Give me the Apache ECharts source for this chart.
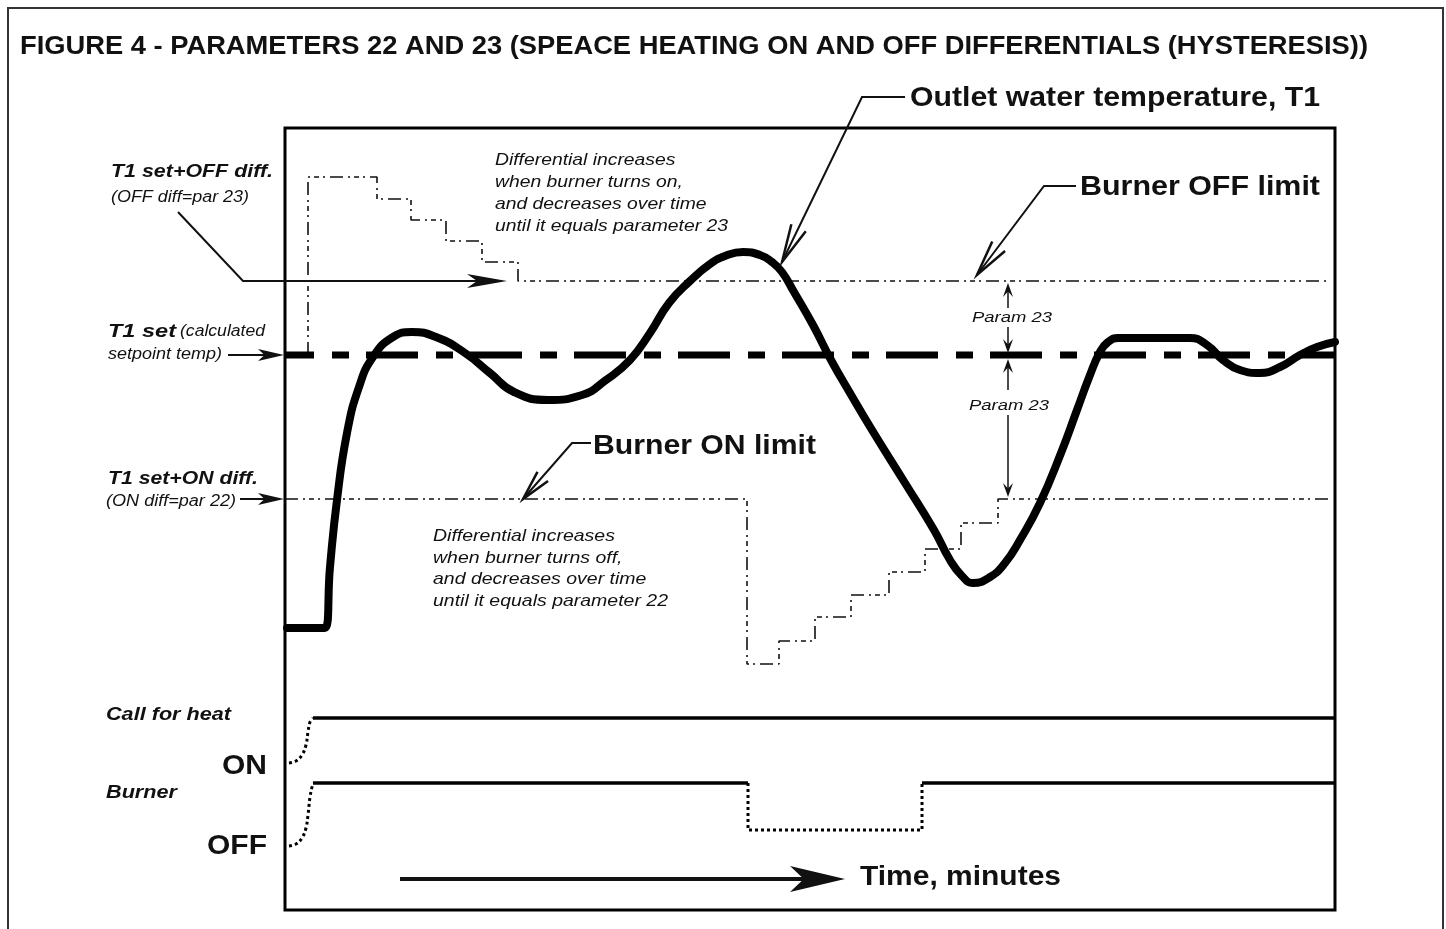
<!DOCTYPE html>
<html><head><meta charset="utf-8">
<script src="https://cdn.jsdelivr.net/npm/echarts@6/dist/echarts.min.js"></script>
<style>html,body{margin:0;padding:0;background:#fff}#c{width:1446px;height:929px}</style>
</head><body><div id="c"></div>
<script>
// ---- data (time in minutes-like units, temperature in arbitrary units) ----
const t1Time = [0.2,4.0,4.5,5.2,6.2,7.4,8.8,10.8,12.7,15.1,18.0,20.5,22.9,26.3,29.7,32.1,34.5,36.5,38.4,40.5,42.5,44.0,45.8,47.5,48.7,49.7,50.9,52.8,54.6,56.5,58.7,62.0,64.9,66.5,67.7,68.8,70.5,72.0,73.5,75.5,77.6,79.2,80.5,81.5,82.3,83.3,90.5,92.2,93.8,95.5,97.5,99.5,101.5,103.2,105.0];
const t1Temp = [28.2,28.2,34.3,41.0,47.7,52.3,55.3,57.3,57.8,57.3,55.7,53.7,51.8,51.0,51.5,53.0,55.0,57.7,60.7,62.9,64.6,65.4,65.8,65.5,64.8,63.8,61.8,58.5,55.0,51.7,48.0,42.7,38.0,35.0,33.4,32.7,33.3,34.7,37.0,40.7,45.7,50.0,53.5,55.8,56.8,57.2,57.2,56.5,55.0,54.0,53.7,54.3,55.5,56.3,56.8];
const setTime = [0, 105];
const setTemp = [55.5, 55.5];
const offLimTime = [2.3, 2.3, 9.2, 12.6, 16.1, 19.7, 23.3, 104.5];
const offLimTemp = [55.5, 73.3, 71.1, 69.0, 66.9, 64.8, 62.9, 62.9];
const onLimTime = [0, 46.2, 49.4, 53.0, 56.6, 60.4, 64.0, 67.6, 71.3, 104.5];
const onLimTemp = [41.1, 24.6, 26.9, 29.3, 31.5, 33.8, 36.1, 38.7, 41.1, 41.1];
const callTime = [2.8, 105];
const callLevel = [19.2, 19.2];
const callRiseTime = [0.4, 1.1, 1.7, 2.1, 2.3, 2.5, 2.8];
const callRiseLevel = [14.7, 14.9, 15.5, 16.5, 17.8, 18.8, 19.2];
const burnOn1Time = [2.8, 46.3];
const burnOn2Time = [63.7, 105];
const burnOnLevel = [12.7, 12.7];
const burnOffTime = [46.3, 46.3, 63.7, 63.7];
const burnOffLevel = [12.7, 8.0, 8.0, 12.7];
const burnRiseTime = [0.4, 1.1, 1.7, 2.1, 2.3, 2.5, 2.7, 2.8];
const burnRiseLevel = [6.4, 6.6, 7.2, 8.2, 9.5, 11.3, 12.3, 12.7];

const zip = (a, b) => a.map((v, i) => [v, b[i]]);

// ---- text helpers ----
const mctx = document.createElement('canvas').getContext('2d');
const FAM = '"Liberation Sans", Arial, sans-serif';
function txt(str, x, y, font, w, scale) {
  mctx.font = font;
  const mw = mctx.measureText(str).width;
  const s = scale != null ? scale : (w ? w / mw : 1);
  return {type: 'text', x: x, y: y, scaleX: s, z: 50,
    style: {text: str, font: font, fill: '#111', align: 'left', textAlign: 'left', verticalAlign: 'middle', textVerticalAlign: 'middle'}};
}
function fitScale(str, font, w) { mctx.font = font; return w / mctx.measureText(str).width; }
function line(points, w) {
  return {type: 'polyline', z: 55, shape: {points: points}, style: {stroke: '#111', lineWidth: w || 2, fill: 'none'}};
}
function head(tip, from, len, hw, notch, filled, lw) {
  const dx = from[0] - tip[0], dy = from[1] - tip[1];
  const d = Math.hypot(dx, dy), ux = dx / d, uy = dy / d, nx = -uy, ny = ux;
  const bx = tip[0] + ux * len, by = tip[1] + uy * len;
  const L = [bx + nx * hw, by + ny * hw], R = [bx - nx * hw, by - ny * hw];
  if (filled) {
    const N = [tip[0] + ux * len * notch, tip[1] + uy * len * notch];
    return {type: 'polygon', z: 60, shape: {points: [tip, L, N, R]}, style: {fill: '#111'}};
  }
  return {type: 'polyline', z: 60, shape: {points: [L, tip, R]}, style: {stroke: '#111', lineWidth: lw || 2.5, fill: 'none'}};
}

const B28 = 'bold 28px ' + FAM;
const BI19 = 'italic bold 19px ' + FAM;
const I16 = 'italic 16px ' + FAM;
const I17 = 'italic 17px ' + FAM;
const I15 = 'italic 15px ' + FAM;

const upScale = fitScale('until it equals parameter 23', I17, 233);
const loScale = fitScale('until it equals parameter 22', I17, 235);

const graphics = [
  {type: 'rect', z: 1, shape: {x: 8, y: 8, width: 1435, height: 960}, style: {stroke: '#333', lineWidth: 2, fill: 'none'}},
  txt('FIGURE 4 - PARAMETERS 22 AND 23 (SPEACE HEATING ON AND OFF DIFFERENTIALS (HYSTERESIS))', 20, 47, 'bold 25px ' + FAM, 1348),
  txt('Outlet water temperature, T1', 910, 98, B28, 410),
  txt('Burner OFF limit', 1080, 187, B28, 240),
  txt('Burner ON limit', 593, 446, B28, 223),
  txt('Time, minutes', 860, 877, B28, 201),
  txt('ON', 222, 766, B28, 45),
  txt('OFF', 207, 846, B28, 60),
  txt('Call for heat', 106, 715, BI19, 125),
  txt('Burner', 106, 793, BI19, 71),
  txt('T1 set+OFF diff.', 111, 172, BI19, 162),
  txt('(OFF diff=par 23)', 111, 198, I16, 138),
  txt('T1 set', 108, 332, BI19, 68),
  txt('(calculated', 180, 332, I16, 85),
  txt('setpoint temp)', 108, 355, I16, 114),
  txt('T1 set+ON diff.', 108, 479, BI19, 150),
  txt('(ON diff=par 22)', 106, 502, I16, 130),
  txt('Differential increases', 495, 160, I17, null, upScale),
  txt('when burner turns on,', 495, 182, I17, null, upScale),
  txt('and decreases over time', 495, 204, I17, null, upScale),
  txt('until it equals parameter 23', 495, 226, I17, null, upScale),
  txt('Differential increases', 433, 536, I17, null, loScale),
  txt('when burner turns off,', 433, 558, I17, null, loScale),
  txt('and decreases over time', 433, 579, I17, null, loScale),
  txt('until it equals parameter 22', 433, 601, I17, null, loScale),
  txt('Param 23', 972, 318, I15, 80),
  txt('Param 23', 969, 406, I15, 80),
  // leader: T1 set + OFF diff
  line([[178, 212], [243, 281], [480, 281]], 2),
  head([507, 281], [243, 281], 40, 7, 0.75, true),
  // leader: T1 set
  line([[228, 355], [270, 355]], 2),
  head([284, 355], [228, 355], 26, 6, 0.75, true),
  // leader: T1 set + ON diff
  line([[240, 499], [270, 499]], 2),
  head([284, 499], [240, 499], 26, 6, 0.75, true),
  // leader: outlet water temperature
  line([[905, 97], [862, 97], [782, 262]], 2),
  head([782, 262], [862, 97], 38, 8, 0, false),
  // leader: burner OFF limit
  line([[1076, 186], [1044, 186], [977, 275]], 2),
  head([977, 275], [1044, 186], 36, 8, 0, false),
  // leader: burner ON limit
  line([[591, 443], [572, 443], [523, 499]], 2),
  head([523, 499], [572, 443], 30, 7, 0, false),
  // param 23 dimension arrows
  line([[1008, 308], [1008, 290]], 1.5),
  head([1008, 283], [1008, 308], 14, 5, 0.6, true),
  line([[1008, 327], [1008, 346]], 1.5),
  head([1008, 353], [1008, 327], 14, 5, 0.6, true),
  line([[1008, 390], [1008, 366]], 1.5),
  head([1008, 359], [1008, 390], 14, 5, 0.6, true),
  line([[1008, 415], [1008, 490]], 1.5),
  head([1008, 497], [1008, 415], 14, 5, 0.6, true),
  // time arrow
  line([[400, 879], [805, 879]], 4),
  head([845, 879], [400, 879], 55, 13, 0.75, true)
];

const base = {type: 'line', symbol: 'none', silent: true, animation: false};
const thin = {color: '#111', width: 1.6, type: [13, 5, 2, 4, 5, 4, 2, 5]};

const chart = echarts.init(document.getElementById('c'), null, {renderer: 'canvas'});
chart.setOption({
  backgroundColor: '#fff',
  animation: false,
  grid: {left: 285, right: 111, top: 128, bottom: 19, show: true, borderColor: '#000', borderWidth: 3, backgroundColor: 'transparent'},
  xAxis: {type: 'value', min: 0, max: 105, show: false},
  yAxis: {type: 'value', min: 0, max: 78.2, show: false},
  series: [
    Object.assign({}, base, {name: 'OFF limit', data: zip(offLimTime, offLimTemp), step: 'end', lineStyle: thin, z: 2}),
    Object.assign({}, base, {name: 'ON limit', data: zip(onLimTime, onLimTemp), step: 'end', lineStyle: thin, z: 2}),
    Object.assign({}, base, {name: 'T1 set', data: zip(setTime, setTemp), lineStyle: {color: '#000', width: 7, type: [52, 18, 17, 17], dashOffset: 23, cap: 'butt'}, z: 3}),
    Object.assign({}, base, {name: 'T1', data: zip(t1Time, t1Temp), smooth: 0.5, lineStyle: {color: '#000', width: 8, cap: 'round', join: 'round'}, z: 4}),
    Object.assign({}, base, {name: 'Call for heat', data: zip(callTime, callLevel), lineStyle: {color: '#000', width: 3.5}, z: 3}),
    Object.assign({}, base, {name: 'Call rise', data: zip(callRiseTime, callRiseLevel), smooth: 0.4, lineStyle: {color: '#000', width: 3, type: [3, 3]}, z: 3}),
    Object.assign({}, base, {name: 'Burner on 1', data: zip(burnOn1Time, burnOnLevel), lineStyle: {color: '#000', width: 3.5}, z: 3}),
    Object.assign({}, base, {name: 'Burner on 2', data: zip(burnOn2Time, burnOnLevel), lineStyle: {color: '#000', width: 3.5}, z: 3}),
    Object.assign({}, base, {name: 'Burner off', data: zip(burnOffTime, burnOffLevel), lineStyle: {color: '#000', width: 3, type: [3, 3]}, z: 3}),
    Object.assign({}, base, {name: 'Burner rise', data: zip(burnRiseTime, burnRiseLevel), smooth: 0.4, lineStyle: {color: '#000', width: 3, type: [3, 3]}, z: 3})
  ],
  graphic: {elements: graphics}
});
</script>
</body></html>
